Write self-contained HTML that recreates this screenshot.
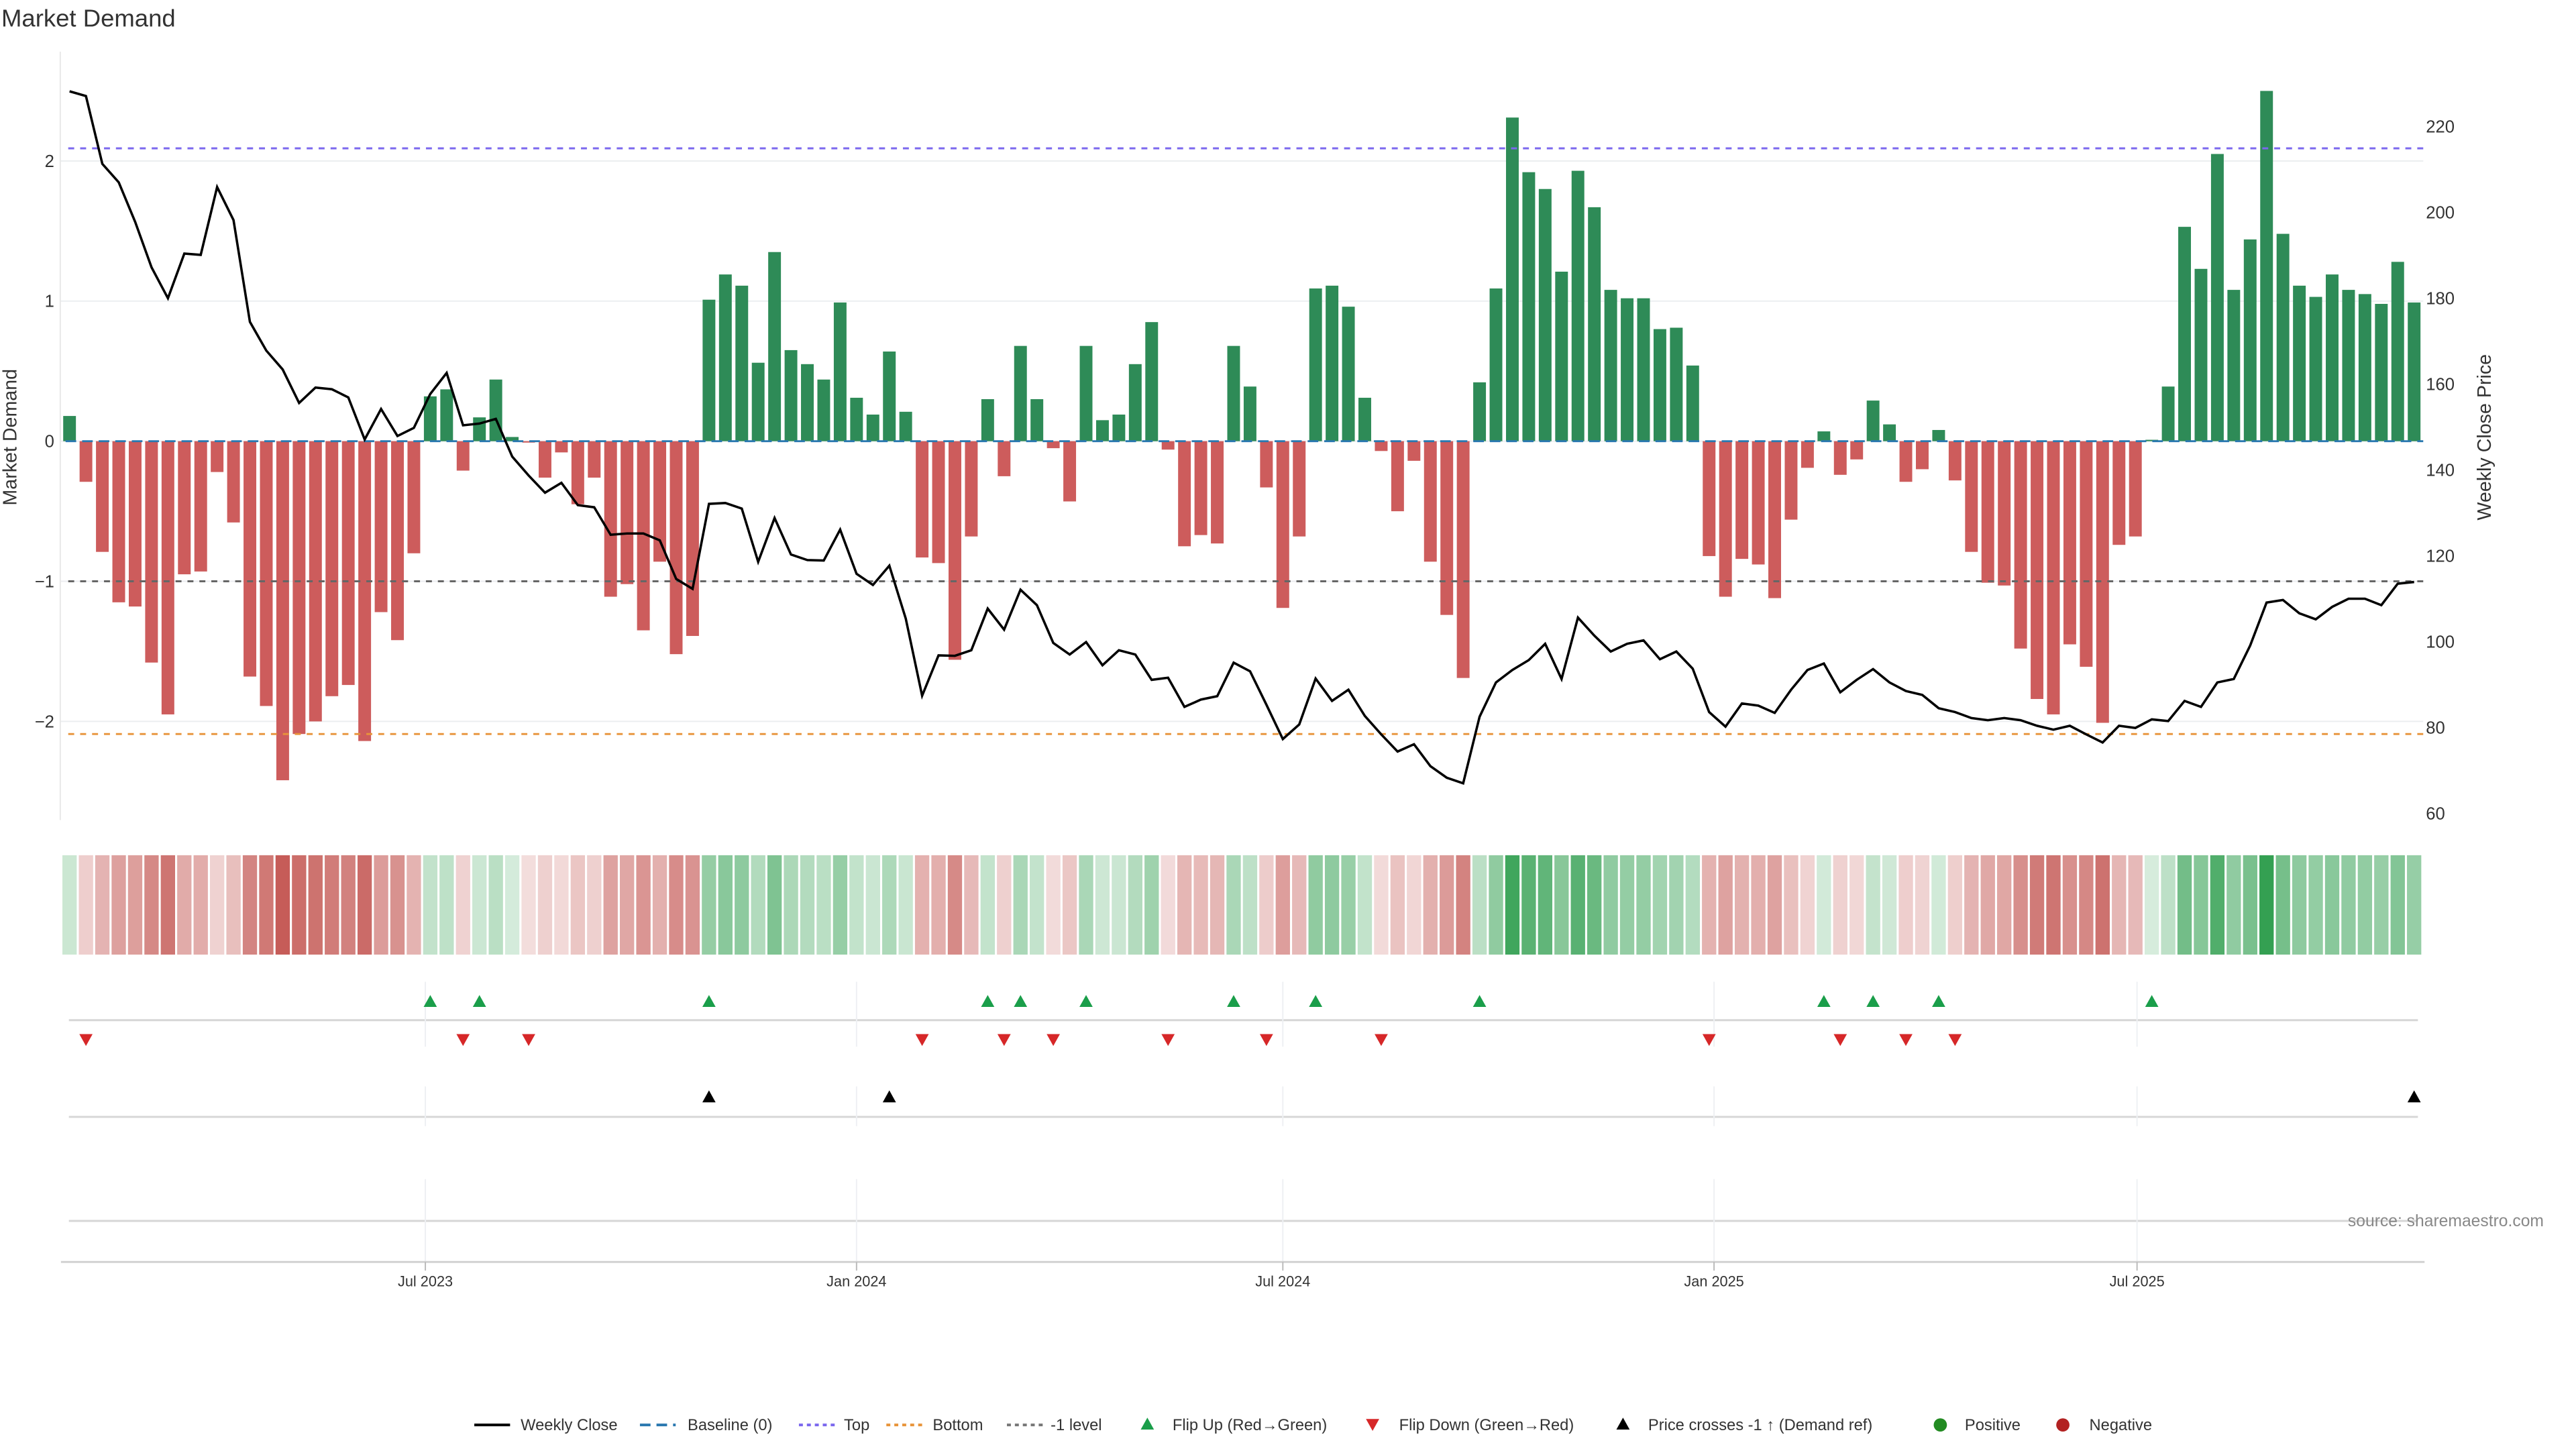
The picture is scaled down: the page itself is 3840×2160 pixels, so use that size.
<!DOCTYPE html>
<html><head><meta charset="utf-8"><title>Market Demand</title>
<style>
html,body{margin:0;padding:0;background:#fff;}
svg{display:block;font-family:"Liberation Sans","DejaVu Sans",sans-serif;}
</style></head>
<body>
<svg id="chart" xmlns="http://www.w3.org/2000/svg" width="3840" height="2160" viewBox="0 0 3840 2160">
<rect width="3840" height="2160" fill="#fff"/>
<g transform="scale(0.9875)">
<text x="2" y="40" font-size="37" fill="#333">Market Demand</text>
<g id="grid"></g><g id="bars"></g><g id="lines"></g><g id="heat"></g><g id="markers"></g><g id="axes"></g><g id="legend"></g>
<text x="3840" y="1851" font-size="25" fill="#888" text-anchor="end">source: sharemaestro.com</text>
</g>
</svg>
<script>
const demand = [0.18,-0.29,-0.79,-1.15,-1.18,-1.58,-1.95,-0.95,-0.93,-0.22,-0.58,-1.68,-1.89,-2.42,-2.09,-2.0,-1.82,-1.74,-2.14,-1.22,-1.42,-0.80,0.32,0.37,-0.21,0.17,0.44,0.03,-0.01,-0.26,-0.08,-0.45,-0.26,-1.11,-1.02,-1.35,-0.86,-1.52,-1.39,
1.01,1.19,1.11,0.56,1.35,0.65,0.55,0.44,0.99,0.31,0.19,0.64,0.21,-0.83,-0.87,-1.56,-0.68,0.30,-0.25,0.68,0.30,-0.05,-0.43,0.68,0.15,0.19,0.55,0.85,-0.06,-0.75,-0.67,-0.73,0.68,0.39,-0.33,-1.19,-0.68,
1.09,1.11,0.96,0.31,-0.07,-0.50,-0.14,-0.86,-1.24,-1.69,0.42,1.09,2.31,1.92,1.80,1.21,1.93,1.67,1.08,1.02,1.02,0.80,0.81,0.54,-0.82,-1.11,-0.84,-0.88,-1.12,-0.56,-0.19,0.07,-0.24,-0.13,0.29,0.12,-0.29,-0.20,
0.08,-0.28,-0.79,-1.01,-1.03,-1.48,-1.84,-1.95,-1.45,-1.61,-2.01,-0.74,-0.68,0.01,0.39,1.53,1.23,2.05,1.08,1.44,2.50,1.48,1.11,1.03,1.19,1.08,1.05,0.98,1.28,0.99];
const price = [228.2,227.1,211.3,207.0,197.8,187.2,180.0,190.4,190.1,205.9,198.2,174.5,167.8,163.4,155.6,159.2,158.8,156.9,147.1,154.2,147.9,149.8,157.7,162.6,150.4,150.8,151.9,143.1,138.7,134.7,137.0,131.8,131.3,124.9,125.2,125.2,123.6,114.6,112.3,
132.1,132.3,131.0,118.6,128.8,120.3,119.0,118.9,126.1,115.8,113.2,117.7,105.4,87.4,96.8,96.7,98.0,107.7,102.8,112.1,108.5,99.7,97.0,99.9,94.5,98.0,97.0,91.1,91.6,84.8,86.5,87.3,95.1,93.1,85.3,77.3,80.7,
91.4,86.2,88.8,82.7,78.4,74.4,76.1,71.0,68.3,67.0,82.5,90.5,93.4,95.7,99.5,91.3,105.6,101.4,97.7,99.5,100.3,95.9,97.7,93.7,83.6,80.2,85.6,85.1,83.4,88.8,93.4,94.9,88.2,91.1,93.6,90.5,88.5,87.6,
84.5,83.6,82.2,81.7,82.2,81.7,80.4,79.5,80.4,78.4,76.5,80.4,79.9,81.9,81.5,86.2,84.8,90.5,91.3,99.1,109.1,109.7,106.6,105.2,108.1,110.0,110.0,108.5,113.5,113.9];
const demandTicks = [-2,-1,0,1,2];
const priceTicks = [60,80,100,120,140,160,180,200,220];
const monthTickLabels = ["Jul 2023","Jan 2024","Jul 2024","Jan 2025","Jul 2025"];
const monthTickWeeks = [21.7,48,74,100.3,126.1];
const levels = [2.09,-2.09,-1];
const priceRefLevel = 113.7;

const NS="http://www.w3.org/2000/svg";
function mk(parent,tag,attrs){const e=document.createElementNS(NS,tag);for(const k in attrs)e.setAttribute(k,attrs[k]);parent.appendChild(e);return e;}
const X0=105, DX=24.75, L=91, R=3658;
const xs=i=>X0+i*DX;
const yD=v=>666-v*211.5;
const yP=p=>191+(220-p)*6.48;
const G=id=>document.getElementById(id);

demandTicks.forEach(t=>{
  const l=mk(G('grid'),'line',{x1:L,x2:R,y1:yD(t),y2:yD(t),stroke:'#eceef0','stroke-width':2});
  
  
  const tx=mk(G('axes'),'text',{x:82,y:yD(t)+9,'font-size':26,fill:'#333','text-anchor':'end'});
  tx.textContent=t<0?'\u2212'+Math.abs(t):String(t);
  
  
});
const la=mk(G('axes'),'line',{x1:L,x2:L,y1:78,y2:1238,stroke:'#e8e8e8','stroke-width':2});


priceTicks.forEach(t=>{
  const tx=mk(G('axes'),'text',{x:3662,y:yP(t)+9,'font-size':26,fill:'#333'});
  tx.textContent=t;
  
  
});
let yl=mk(G('axes'),'text',{x:0,y:0,'font-size':29,fill:'#333','text-anchor':'middle',transform:'translate(25,660) rotate(-90)'});
yl.textContent='Market Demand';


let yr=mk(G('axes'),'text',{x:0,y:0,'font-size':29,fill:'#333','text-anchor':'middle',transform:'translate(3760,660) rotate(-90)'});
yr.textContent='Weekly Close Price';



demand.forEach((v,i)=>{
  const y0=yD(0), y1=yD(v);
  const b=mk(G('bars'),'rect',{x:xs(i)-9.6,width:19.2,y:Math.min(y0,y1),height:Math.abs(y1-y0),fill:v>=0?'#2e8b57':'#cd5c5c'});
  
  
});
const lvStyle=[['#7b68ee','9,9','top-level-line'],['#e8943a','9,9','bottom-level-line'],['#666','9,9','minus-one-level-line']];
levels.forEach((v,k)=>{
  const l=mk(G('lines'),'line',{x1:L+12,x2:R,y1:yD(v),y2:yD(v),stroke:lvStyle[k][0],'stroke-width':3,'stroke-dasharray':lvStyle[k][1]});
  
  
});
const bl=mk(G('lines'),'line',{x1:L+8,x2:R,y1:yD(0),y2:yD(0),stroke:'#2a78b0','stroke-width':3,'stroke-dasharray':'16,9'});


const pl=mk(G('lines'),'polyline',{points:price.map((p,i)=>xs(i)+','+yP(p)).join(' '),fill:'none',stroke:'#000','stroke-width':3.6,'stroke-linejoin':'miter'});



demand.forEach((v,i)=>{
  const a=0.2+0.8*Math.min(Math.abs(v)/2.5,1);
  const base=v>=0?[52,160,82]:[196,88,84];
  const c=base.map(ch=>Math.round(255-(255-ch)*a));
  const r=mk(G('heat'),'rect',{x:xs(i)-10.8,width:21.6,y:1291,height:150,fill:'rgb('+c.join(',')+')'});
  
  
});

const panelLines=[1540,1686,1843];
panelLines.forEach(y=>{
  const l=mk(G('markers'),'line',{x1:104,x2:3650,y1:y,y2:y,stroke:'#d6d6d6','stroke-width':3});
  
  
});
const xa=mk(G('axes'),'line',{x1:92,x2:3660,y1:1905,y2:1905,stroke:'#d0d0d0','stroke-width':3});


monthTickWeeks.forEach((w,k)=>{
  const x=xs(w);
  [[1482,1580],[1640,1700],[1780,1905]].forEach(s=>{
    const g=mk(G('markers'),'line',{x1:x,x2:x,y1:s[0],y2:s[1],stroke:'#eef0f3','stroke-width':2});
    
    
  });
  const t=mk(G('axes'),'line',{x1:x,x2:x,y1:1905,y2:1918,stroke:'#bbb','stroke-width':2});
  
  
  const tx=mk(G('axes'),'text',{x:x,y:1942,'font-size':22,fill:'#333','text-anchor':'middle'});
  tx.textContent=monthTickLabels[k];
  
  
});
function tri(x,y,up,color,name){
  const pts=up?[[x-10,y+9],[x+10,y+9],[x,y-9]]:[[x-10,y-9],[x+10,y-9],[x,y+9]];
  const p=mk(G('markers'),'polygon',{points:pts.map(q=>q.join(',')).join(' '),fill:color});
  
  
}
for(let i=1;i<demand.length;i++){
  if(demand[i-1]<0&&demand[i]>=0) tri(xs(i),1511,true,'#1a9e4a','flip-up-marker');
  if(demand[i-1]>=0&&demand[i]<0) tri(xs(i),1570,false,'#d62728','flip-down-marker');
  if(price[i-1]<priceRefLevel&&price[i]>=priceRefLevel) tri(xs(i),1655,true,'#000','price-cross-marker');
}

const lg=G('legend'); const LY=2151;
function ltext(x,s,name){const t=mk(lg,'text',{x:x,y:LY+8,'font-size':24,fill:'#333'});t.textContent=s;}
function lline(x,color,dash,name){const l=mk(lg,'line',{x1:x,x2:x+54,y1:LY,y2:LY,stroke:color,'stroke-width':4,'stroke-dasharray':dash});}
lline(716,'#000','none','legend-weekly-close-swatch'); ltext(786,'Weekly Close','legend-weekly-close-label');
lline(966,'#2a78b0','16,9','legend-baseline-swatch'); ltext(1038,'Baseline (0)','legend-baseline-label');
lline(1206,'#7b68ee','6,6','legend-top-swatch'); ltext(1274,'Top','legend-top-label');
lline(1338,'#e8943a','6,6','legend-bottom-swatch'); ltext(1408,'Bottom','legend-bottom-label');
lline(1520,'#777','6,6','legend-minus-one-swatch'); ltext(1586,'-1 level','legend-minus-one-label');
let g1=mk(lg,'polygon',{points:'1722,2158 1742,2158 1732,2140',fill:'#1a9e4a'});
ltext(1770,'Flip Up (Red\u2192Green)','legend-flip-up-label');
let g2=mk(lg,'polygon',{points:'2062,2142 2082,2142 2072,2160',fill:'#d62728'});
ltext(2112,'Flip Down (Green\u2192Red)','legend-flip-down-label');
let g3=mk(lg,'polygon',{points:'2440,2158 2460,2158 2450,2140',fill:'#000'});
ltext(2488,'Price crosses -1 \u2191 (Demand ref)','legend-price-cross-label');
let c1=mk(lg,'circle',{cx:2929,cy:LY,r:10,fill:'#228b22'});
ltext(2966,'Positive','legend-positive-label');
let c2=mk(lg,'circle',{cx:3114,cy:LY,r:10,fill:'#b22222'});
ltext(3154,'Negative','legend-negative-label');
</script>
</body></html>
